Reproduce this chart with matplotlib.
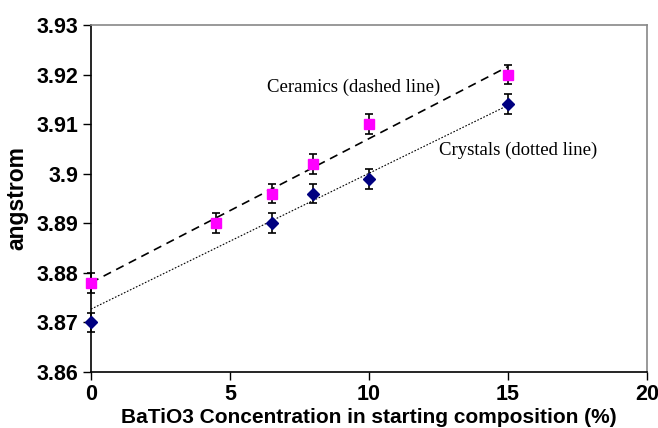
import numpy as np
import matplotlib
matplotlib.use("Agg")
import matplotlib.pyplot as plt

# lattice parameter vs BaTiO3 content
ceramic_x = [0, 4.5, 6.5, 8, 10, 15]
ceramic_y = [3.878, 3.890, 3.896, 3.902, 3.910, 3.920]
ceramic_err = [0.002, 0.002, 0.002, 0.002, 0.002, 0.002]

crystal_x = [0, 6.5, 8, 10, 15]
crystal_y = [3.870, 3.890, 3.896, 3.899, 3.914]
crystal_err = [0.002, 0.002, 0.002, 0.002, 0.002]

plt.rcParams['font.family'] = ['Liberation Sans', 'DejaVu Sans']

fig = plt.figure(figsize=(6.58, 4.28), dpi=100)
ax = fig.add_axes([91 / 658, 1 - 372 / 428, 556 / 658, 347 / 428])

# trendlines
xx = np.array([0, 15])
p1 = np.polyfit(ceramic_x, ceramic_y, 1)
ax.plot(xx, np.polyval(p1, xx), color='black', ls=(0, (5, 3.5)), lw=1.2, zorder=2)
p2 = np.polyfit(crystal_x[1:], crystal_y[1:], 1)
ax.plot(xx, np.polyval(p2, xx), color='black', ls=(0, (1.5, 1.5)), lw=0.8, zorder=2)

ax.errorbar(crystal_x, crystal_y, yerr=crystal_err, fmt='D', color='#000080', ms=6,
            ecolor='black', elinewidth=1.2, capsize=3, capthick=1.2, zorder=3, clip_on=False)
ax.errorbar(ceramic_x, ceramic_y, yerr=ceramic_err, fmt='s', color='#FF00FF', ms=7,
            ecolor='black', elinewidth=1.2, capsize=3, capthick=1.2, zorder=3, clip_on=False)

ax.text(9.46, 3.9175, 'Ceramics (dashed line)', family='Liberation Serif', fontsize=13.5,
        ha='center', va='center')
ax.text(15.38, 3.9048, 'Crystals (dotted line)', family='Liberation Serif', fontsize=13.5,
        ha='center', va='center')

ax.set_xlim(0, 20)
ax.set_ylim(3.86, 3.93)
ax.set_xticks([0, 5, 10, 15, 20])
ax.set_yticks([3.86, 3.87, 3.88, 3.89, 3.90, 3.91, 3.92, 3.93])
ax.set_yticklabels(['3.86', '3.87', '3.88', '3.89', '3.9', '3.91', '3.92', '3.93'])
ax.tick_params(direction='out', length=6, width=1, labelsize=15.5, pad=3)
for lab in ax.get_xticklabels() + ax.get_yticklabels():
    lab.set_fontweight('bold')

ax.spines['left'].set_color('black')
ax.spines['bottom'].set_color('black')
ax.spines['top'].set_color('#888888')
ax.spines['right'].set_color('#888888')
for s in ax.spines.values():
    s.set_linewidth(1.2)

ax.set_xlabel('BaTiO3 Concentration in starting composition (%)', fontsize=15,
              fontweight='bold', labelpad=2)
ax.set_ylabel('angstrom', fontsize=16.5, fontweight='bold', labelpad=6)

fig.savefig('out.png', dpi=100)
